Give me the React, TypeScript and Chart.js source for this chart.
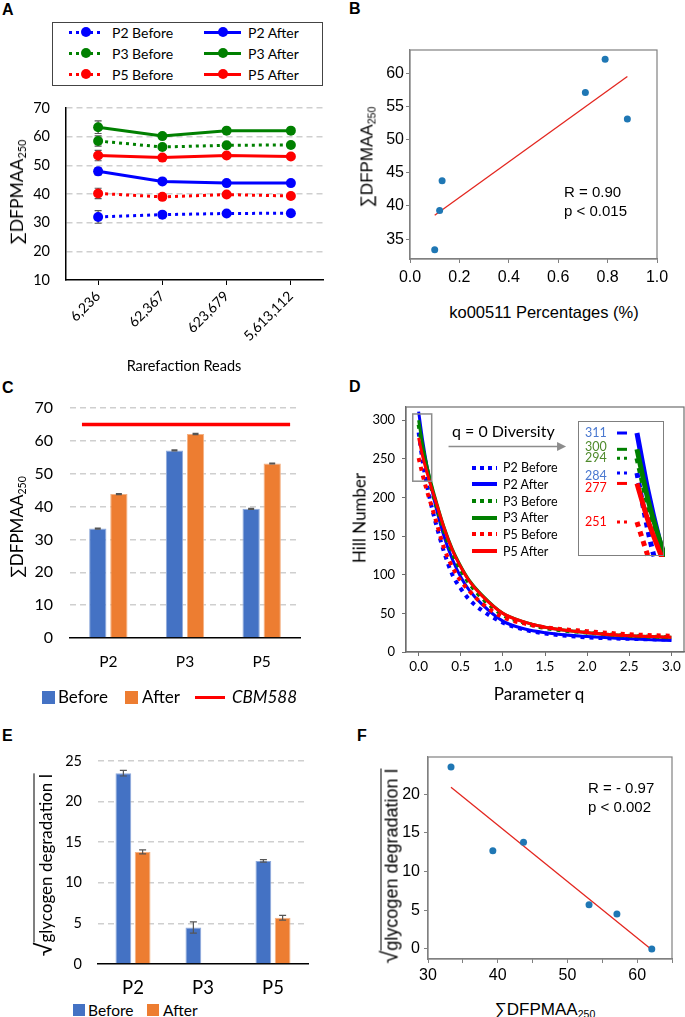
import React, { useEffect, useRef } from "react";
import { Chart, registerables } from "chart.js";
Chart.register(...registerables);

// ---------------- DATA ----------------
const rarefactionReads = ["6,236", "62,367", "623,679", "5,613,112"];
const aP2Before = [32.0, 32.8, 33.2, 33.3];
const aP2After = [47.9, 44.4, 43.8, 43.8];
const aP3Before = [58.5, 56.4, 57.0, 57.1];
const aP3After = [63.3, 60.2, 62.1, 62.1];
const aP5Before = [40.2, 39.0, 39.8, 39.3];
const aP5After = [53.4, 52.7, 53.4, 53.1];
const aP2BeforeErr = [2.2, 0.2, 0.2, 0.2];
const aP2AfterErr = [1.2, 0.2, 0.2, 0.2];
const aP3BeforeErr = [1.8, 0.2, 0.2, 0.2];
const aP3AfterErr = [2.2, 0.2, 0.2, 0.2];
const aP5BeforeErr = [1.8, 0.2, 0.2, 0.2];
const aP5AfterErr = [1.8, 0.2, 0.2, 0.2];

const koPercent = [0.1, 0.12, 0.13, 0.71, 0.79, 0.88];
const koDfpmaa = [33.4, 39.3, 43.8, 57.1, 62.1, 53.1];
const koFitX = [0.1, 0.88];
const koFitY = [38.6, 59.5];
const koStats = ["R = 0.90", "p < 0.015"];

const samples = ["P2", "P3", "P5"];
const cBefore = [33.3, 57.1, 39.3];
const cAfter = [43.8, 62.1, 53.1];
const cBeforeErr = [0.15, 0.15, 0.15];
const cAfterErr = [0.15, 0.2, 0.15];
const cbm588Level = [65, 65];
const cbm588Span = [0.052, 0.957];

const qValues = [0, 0.05, 0.1, 0.15, 0.2, 0.3, 0.4, 0.5, 0.6, 0.75, 1.0, 1.25, 1.5, 2.0, 2.5, 3.0];
const hP2Before = [284, 245, 215, 190, 168, 130, 100, 82, 68, 54, 38, 29, 24, 19, 17, 16];
const hP2After = [311, 272, 240, 214, 190, 150, 120, 97, 80, 62, 40, 30, 25, 20, 17, 15];
const hP3Before = [294, 262, 236, 213, 193, 157, 128, 106, 89, 70, 48, 38, 31, 25, 21, 19];
const hP3After = [300, 266, 240, 218, 198, 162, 133, 111, 93, 74, 50, 39, 32, 25, 21, 19];
const hP5Before = [251, 228, 208, 190, 172, 135, 110, 92, 79, 63, 45, 37, 32, 27, 23, 21];
const hP5After = [277, 252, 232, 213, 196, 161, 132, 110, 92, 73, 50, 39, 32, 25, 21, 19];
const zoomBoxQ = [-0.07, 0.155];
const zoomBoxHill = [221, 308];
const arrowQ = [0.355, 1.75];
const arrowHill = 266;

const eBefore = [23.5, 4.5, 12.7];
const eAfter = [13.8, 0, 5.7];
const eBeforeErr = [0.35, 0.7, 0.15];
const eAfterErr = [0.25, 0, 0.3];

const fDfpmaa = [33.3, 39.3, 43.7, 53.1, 57.1, 62.1];
const fGlycogen = [23.5, 12.7, 13.8, 5.7, 4.5, 0.0];
const fFitX = [33.3, 62.1];
const fFitY = [20.9, -0.1];
const fStats = ["R = - 0.97", "p < 0.002"];

// ---------------- STYLE ----------------
const LATO = "Lato, 'Open Sans', sans-serif";
const ARIAL = "'Liberation Sans', Arial, sans-serif";
const BLUE = "#0000ff";
const GREEN = "#008000";
const RED = "#ff0000";
const BAR_BLUE = "#4472c4";
const BAR_ORANGE = "#ed7d31";
const GRID = "#cfcfcf";
const TRANSPARENT = "rgba(0,0,0,0)";
const noLegend = { legend: { display: false }, tooltip: { enabled: false } };

const hillSeries = [
  { label: "P2 Before", data: hP2Before, color: BLUE, dotted: true, numColor: "#4a78d0", shift: 3 },
  { label: "P2 After", data: hP2After, color: BLUE, dotted: false, numColor: "#4a78d0", shift: 0 },
  { label: "P3 Before", data: hP3Before, color: GREEN, dotted: true, numColor: "#4f8a2b", shift: 0 },
  { label: "P3 After", data: hP3After, color: GREEN, dotted: false, numColor: "#4f8a2b", shift: -2 },
  { label: "P5 Before", data: hP5Before, color: RED, dotted: true, numColor: RED, shift: 0 },
  { label: "P5 After", data: hP5After, color: RED, dotted: false, numColor: RED, shift: 5 },
];

// fixed axis sizes, without label-overflow padding
const fixW = (w: number) => (s: any) => { s.width = w; s.paddingTop = 0; s.paddingBottom = 0; };
const fixH = (h: number) => (s: any) => { s.height = h; s.paddingLeft = 0; s.paddingRight = 0; };

// ---------------- PLUGINS ----------------
function drawErrors(chart: any, opts: any) {
  const { ctx } = chart;
  chart.data.datasets.forEach((ds: any, i: number) => {
    if (!ds.errors) return;
    const meta = chart.getDatasetMeta(i);
    const ys = chart.scales[meta.yAxisID];
    meta.data.forEach((el: any, j: number) => {
      const e = ds.errors[j];
      const v = ds.data[j];
      if (!e) return;
      const x = el.x;
      const y1 = ys.getPixelForValue(v + e);
      const y2 = ys.getPixelForValue(v - e);
      ctx.save();
      ctx.strokeStyle = opts.color || "#555";
      ctx.lineWidth = opts.width || 1;
      ctx.beginPath();
      ctx.moveTo(x, y1);
      ctx.lineTo(x, y2);
      ctx.moveTo(x - opts.cap, y1);
      ctx.lineTo(x + opts.cap, y1);
      ctx.moveTo(x - opts.cap, y2);
      ctx.lineTo(x + opts.cap, y2);
      ctx.stroke();
      ctx.restore();
    });
  });
}
const errorBarPlugin = {
  id: "errorBars",
  beforeDatasetsDraw(chart: any, _a: any, opts: any) {
    if (opts.before) drawErrors(chart, opts);
  },
  afterDatasetsDraw(chart: any, _a: any, opts: any) {
    if (!opts.before) drawErrors(chart, opts);
  },
};

const framePlugin = {
  id: "frame",
  afterDraw(chart: any, _a: any, opts: any) {
    const { ctx, chartArea } = chart;
    ctx.save();
    ctx.strokeStyle = opts.color || "#777";
    ctx.lineWidth = opts.width || 1;
    ctx.strokeRect(chartArea.left, chartArea.top, chartArea.right - chartArea.left, chartArea.bottom - chartArea.top);
    ctx.restore();
  },
};

const dAnnotPlugin = {
  id: "dAnnot",
  afterDatasetsDraw(chart: any) {
    const { ctx } = chart;
    const xs = chart.scales.x;
    const ys = chart.scales.y;
    const x0 = xs.getPixelForValue(zoomBoxQ[0]);
    const x1 = xs.getPixelForValue(zoomBoxQ[1]);
    const y0 = ys.getPixelForValue(zoomBoxHill[1]);
    const y1 = ys.getPixelForValue(zoomBoxHill[0]);
    ctx.save();
    ctx.strokeStyle = "#8c8c8c";
    ctx.lineWidth = 1.5;
    ctx.strokeRect(x0, y0, x1 - x0, y1 - y0);
    const ax0 = xs.getPixelForValue(arrowQ[0]);
    const ax1 = xs.getPixelForValue(arrowQ[1]);
    const ay = ys.getPixelForValue(arrowHill);
    ctx.beginPath();
    ctx.moveTo(ax0, ay);
    ctx.lineTo(ax1 - 4, ay);
    ctx.stroke();
    ctx.fillStyle = "#8c8c8c";
    ctx.beginPath();
    ctx.moveTo(ax1, ay);
    ctx.lineTo(ax1 - 9, ay - 4.5);
    ctx.lineTo(ax1 - 9, ay + 4.5);
    ctx.closePath();
    ctx.fill();
    ctx.restore();
  },
};

const insetLabelPlugin = {
  id: "insetLabels",
  afterDraw(chart: any) {
    const { ctx } = chart;
    const ys = chart.scales.y;
    ctx.save();
    ctx.font = `12.5px ${LATO}`;
    ctx.textBaseline = "middle";
    hillSeries.forEach((s) => {
      const v = s.data[0];
      const py = ys.getPixelForValue(v);
      ctx.fillStyle = s.numColor;
      ctx.fillText(String(v), 7, py + s.shift);
      ctx.strokeStyle = s.color;
      ctx.lineWidth = 3;
      ctx.setLineDash(s.dotted ? [3, 4] : []);
      ctx.beginPath();
      ctx.moveTo(39, py);
      ctx.lineTo(49, py);
      ctx.stroke();
    });
    ctx.restore();
  },
};

// ---------------- CONFIGS ----------------
function lineDs(label: string, data: number[], errors: number[], color: string, dotted: boolean, order: number) {
  return {
    label,
    data,
    errors,
    order,
    borderColor: color,
    backgroundColor: color,
    borderWidth: 3,
    borderDash: dotted ? [3, 4] : [],
    pointRadius: 5,
    pointHoverRadius: 5,
    pointBackgroundColor: color,
    pointBorderWidth: 0,
    tension: 0,
  };
}

const configA = () => ({
  type: "line",
  data: {
    labels: rarefactionReads,
    datasets: [
      lineDs("P2 Before", aP2Before, aP2BeforeErr, BLUE, true, 5),
      lineDs("P2 After", aP2After, aP2AfterErr, BLUE, false, 4),
      lineDs("P3 Before", aP3Before, aP3BeforeErr, GREEN, true, 3),
      lineDs("P3 After", aP3After, aP3AfterErr, GREEN, false, 2),
      lineDs("P5 Before", aP5Before, aP5BeforeErr, RED, true, 1),
      lineDs("P5 After", aP5After, aP5AfterErr, RED, false, 0),
    ],
  },
  options: {
    responsive: false,
    animation: false,
    layout: { padding: { top: 13, right: 19, left: 0, bottom: 0 } },
    plugins: { ...noLegend, errorBars: { color: "#555", width: 1.2, cap: 3.5, before: true } },
    scales: {
      x: {
        offset: true,
        grid: { drawOnChartArea: false, tickLength: 5, color: "#000", lineWidth: 1 },
        border: { color: "#000", width: 1.5 },
        ticks: { minRotation: 45, maxRotation: 45, padding: 3, color: "#000", font: { family: LATO, size: 14 } },
        afterFit: fixH(85),
      },
      y: {
        min: 10,
        max: 70,
        grid: { drawTicks: false, color: (c: any) => (c.tick && c.tick.value === 10 ? TRANSPARENT : GRID), lineWidth: 1.5 },
        border: { color: "#000", width: 1.5, dash: [6, 4] },
        ticks: { stepSize: 10, padding: 16, color: "#000", font: { family: LATO, size: 14.5 } },
        afterFit: fixW(66),
      },
    },
  },
  plugins: [errorBarPlugin],
});

function scatterConfig(opts: any) {
  return {
    type: "scatter",
    data: {
      datasets: [
        { data: opts.xs.map((x: number, i: number) => ({ x, y: opts.ys[i] })), backgroundColor: "#1f77b4", pointRadius: 3.5, pointHoverRadius: 3.5, pointBorderWidth: 0, order: 0 },
        { type: "line", data: opts.fx.map((x: number, i: number) => ({ x, y: opts.fy[i] })), borderColor: "#e3261f", borderWidth: 1.3, pointRadius: 0, order: 1 },
      ],
    },
    options: {
      responsive: false,
      animation: false,
      layout: { padding: opts.padding },
      plugins: { ...noLegend, frame: { color: "#808080", width: 1.2 } },
      scales: {
        x: {
          type: "linear",
          min: opts.xMin,
          max: opts.xMax,
          grid: { drawOnChartArea: false, tickLength: 4, color: "#808080" },
          border: { color: "#808080", width: 1.2 },
          ticks: { stepSize: opts.xStep, includeBounds: false, padding: opts.xPad, color: "#000", font: { family: ARIAL, size: 16 }, callback: opts.xCb },
          afterFit: fixH(opts.xH),
        },
        y: {
          min: opts.yMin,
          max: opts.yMax,
          grid: { drawOnChartArea: false, tickLength: 4, color: "#808080" },
          border: { color: "#808080", width: 1.2 },
          ticks: { stepSize: 5, includeBounds: false, padding: opts.yPad, color: "#000", font: { family: ARIAL, size: 16 } },
          afterFit: fixW(opts.yW),
        },
      },
    },
    plugins: [framePlugin],
  };
}

const configB = () =>
  scatterConfig({
    xs: koPercent, ys: koDfpmaa, fx: koFitX, fy: koFitY,
    padding: { top: 20, right: 28, left: 0, bottom: 0 },
    xMin: 0, xMax: 1, xStep: 0.2, xPad: 5, xH: 31, xCb: (v: any) => Number(v).toFixed(1),
    yMin: 32, yMax: 63.5, yPad: 2, yW: 68,
  });

const configF = () =>
  scatterConfig({
    xs: fDfpmaa, ys: fGlycogen, fx: fFitX, fy: fFitY,
    padding: { top: 17, right: 13, left: 0, bottom: 0 },
    xMin: 30, xMax: 65, xStep: 5, xPad: 3, xH: 31, xCb: (v: any) => (Number(v) % 10 === 0 ? String(v) : ""),
    yMin: -1.3, yMax: 24.8, yPad: 4, yW: 86,
  });

function barDs(label: string, data: number[], errors: number[], color: string, edge: string) {
  return {
    label, data, errors,
    backgroundColor: color, borderColor: edge, borderWidth: 1,
    categoryPercentage: 0.55, barPercentage: 0.82,
  };
}

function barScales(o: any) {
  return {
    x: {
      grid: { display: false, drawTicks: false },
      border: { color: "#000", width: 1.5 },
      ticks: { padding: o.xPad, color: "#000", font: { family: LATO, size: o.xSize } },
      afterFit: fixH(o.xH),
    },
    y: {
      min: 0,
      max: o.yMax,
      grid: { drawTicks: false, color: (c: any) => (c.tick && c.tick.value === 0 ? TRANSPARENT : GRID), lineWidth: 1.5 },
      border: { display: false, dash: [6, 4] },
      ticks: { stepSize: o.yStep, padding: o.yPad, color: "#000", font: { family: LATO, size: o.ySize } },
      afterFit: fixW(o.yW),
    },
  };
}

const configC = () => ({
  type: "bar",
  data: {
    labels: samples,
    datasets: [
      barDs("Before", cBefore, cBeforeErr, BAR_BLUE, "#8faadc"),
      barDs("After", cAfter, cAfterErr, BAR_ORANGE, "#f4b183"),
    ],
  },
  options: {
    responsive: false,
    animation: false,
    layout: { padding: { top: 13, right: 42, left: 0, bottom: 0 } },
    plugins: { ...noLegend, errorBars: { color: "#555", width: 1.2, cap: 3 } },
    scales: barScales({ xPad: 15, xSize: 15.5, xH: 37, yMax: 70, yStep: 10, yPad: 17, ySize: 16, yW: 70 }),
  },
  plugins: [errorBarPlugin],
});

// transparent overlay with the same plot area as C, carrying the CBM588 reference line
const configCLine = () => ({
  type: "line",
  data: {
    datasets: [
      { label: "CBM588", data: cbm588Span.map((x, i) => ({ x, y: cbm588Level[i] })), borderColor: RED, borderWidth: 3.5, pointRadius: 0 },
    ],
  },
  options: {
    responsive: false,
    animation: false,
    layout: { padding: { top: 13, right: 42, left: 70, bottom: 37 } },
    plugins: { ...noLegend },
    scales: {
      x: { type: "linear", min: 0, max: 1, display: false },
      y: { min: 0, max: 70, display: false },
    },
  },
});

const configE = () => ({
  type: "bar",
  data: {
    labels: samples,
    datasets: [
      barDs("Before", eBefore, eBeforeErr, BAR_BLUE, "#8faadc"),
      barDs("After", eAfter, eAfterErr, BAR_ORANGE, "#f4b183"),
    ],
  },
  options: {
    responsive: false,
    animation: false,
    layout: { padding: { top: 11, right: 34, left: 0, bottom: 0 } },
    plugins: { ...noLegend, errorBars: { color: "#555", width: 1.2, cap: 3.5 } },
    scales: barScales({ xPad: 13, xSize: 18.5, xH: 36, yMax: 25, yStep: 5, yPad: 16, ySize: 14.5, yW: 98 }),
  },
  plugins: [errorBarPlugin],
});

function hillDatasets(widthSolid: number, widthDot: number, dash: number[]) {
  return hillSeries.map((s, i) => ({
    label: s.label,
    data: qValues.map((q, j) => ({ x: q, y: s.data[j] })),
    borderColor: s.color,
    borderWidth: s.dotted ? widthDot : widthSolid,
    borderDash: s.dotted ? dash : [],
    pointRadius: 0,
    cubicInterpolationMode: "monotone",
    order: 5 - i,
  }));
}

const configD = () => ({
  type: "line",
  data: { datasets: hillDatasets(3, 4, [4, 5]) },
  options: {
    responsive: false,
    animation: false,
    layout: { padding: { top: 12, right: 1, left: 0, bottom: 0 } },
    plugins: { ...noLegend, frame: { color: "#6e6e6e", width: 1.2 } },
    scales: {
      x: {
        type: "linear", min: -0.15, max: 3.15,
        grid: { drawOnChartArea: false, tickLength: 4, color: "#6e6e6e" },
        border: { color: "#6e6e6e", width: 1.2 },
        ticks: { stepSize: 0.5, includeBounds: false, padding: 3, color: "#000", font: { family: LATO, size: 13.5 }, callback: (v: any) => Number(v).toFixed(1) },
        afterFit: fixH(28),
      },
      y: {
        min: 0, max: 317,
        grid: { drawOnChartArea: false, tickLength: 4, color: "#6e6e6e" },
        border: { color: "#6e6e6e", width: 1.2 },
        ticks: { stepSize: 50, includeBounds: false, padding: 7, color: "#000", font: { family: LATO, size: 13 } },
        afterFit: fixW(64),
      },
    },
  },
  plugins: [framePlugin, dAnnotPlugin],
});

const configInset = () => ({
  type: "line",
  data: { datasets: hillDatasets(5, 5, [5, 5]) },
  options: {
    responsive: false,
    animation: false,
    layout: { padding: 0 },
    plugins: { ...noLegend },
    scales: {
      x: { type: "linear", min: -0.267, max: 0.127, display: false },
      y: { min: 227.4, max: 319.1, display: false },
    },
  },
  plugins: [insetLabelPlugin],
});

// ---------------- COMPONENTS ----------------
function ChartCanvas({ x, y, w, h, config }: { x: number; y: number; w: number; h: number; config: () => any }) {
  const ref = useRef<HTMLCanvasElement | null>(null);
  useEffect(() => {
    if (!ref.current) return;
    const chart = new Chart(ref.current, config());
    return () => chart.destroy();
  }, []);
  return (
    <div style={{ position: "absolute", left: x, top: y, width: w, height: h }}>
      <canvas ref={ref} width={w} height={h} style={{ display: "block", width: w, height: h }} />
    </div>
  );
}

function Txt({ left, cx, cy, size, family, bold, italic, color, children }: any) {
  const lh = Math.round(size * 1.2);
  const style: any = {
    position: "absolute",
    top: cy - lh / 2,
    lineHeight: `${lh}px`,
    fontSize: size,
    fontFamily: family,
    fontWeight: bold ? 700 : 400,
    fontStyle: italic ? "italic" : "normal",
    color: color || "#000",
    whiteSpace: "nowrap",
  };
  if (cx !== undefined) {
    style.left = cx;
    style.transform = "translateX(-50%)";
  } else style.left = left;
  return <div style={style}>{children}</div>;
}

function VText({ cx, cy, size, family, children }: any) {
  return (
    <div
      style={{
        position: "absolute", left: cx, top: cy,
        transform: "translate(-50%, -50%) rotate(-90deg)",
        whiteSpace: "nowrap", fontSize: size, fontFamily: family,
        lineHeight: `${Math.round(size * 1.25)}px`, color: "#000",
      }}
    >
      {children}
    </div>
  );
}

const SumTitle = () => (
  <>
    ∑DFPMAA<sub style={{ fontSize: "0.62em", verticalAlign: "-0.3em", lineHeight: 0 }}>250</sub>
  </>
);
const RootTitle = () => (
  <>
    <span style={{ fontSize: "1.3em", lineHeight: 0 }}>√</span>
    <span style={{ borderTop: "1.5px solid #000" }}>glycogen degradation I</span>
  </>
);

function Sample({ x, y, w, color, dotted, thick, marker, dot }: any) {
  const bg = dotted
    ? `repeating-linear-gradient(to right, ${color} 0px, ${color} ${dot[0]}px, transparent ${dot[0]}px, transparent ${dot[0] + dot[1]}px)`
    : color;
  return (
    <>
      <div style={{ position: "absolute", left: x, top: y - thick / 2, width: w, height: thick, background: bg }} />
      {marker ? (
        <div style={{ position: "absolute", left: x + w / 2 - 5, top: y - 5, width: 10, height: 10, borderRadius: "50%", background: color }} />
      ) : null}
    </>
  );
}

function Swatch({ x, cy, size, color }: any) {
  return <div style={{ position: "absolute", left: x, top: cy - size / 2, width: size, height: size, background: color }} />;
}

export default function App() {
  const legendARows = [
    { y: 32, l: hillSeries[0], r: hillSeries[1] },
    { y: 53, l: hillSeries[2], r: hillSeries[3] },
    { y: 74, l: hillSeries[4], r: hillSeries[5] },
  ];
  const legendDRowsY = [467.7, 484.3, 501, 517.7, 534.3, 551];
  return (
    <div style={{ position: "absolute", left: 0, top: 0, width: 685, height: 1017, background: "#fff", overflow: "hidden" }}>
      {/* Panel labels */}
      <Txt left={2} cy={9} size={16} family={ARIAL} bold>A</Txt>
      <Txt left={349} cy={8} size={16} family={ARIAL} bold>B</Txt>
      <Txt left={2} cy={387} size={16} family={ARIAL} bold>C</Txt>
      <Txt left={349} cy={386} size={16} family={ARIAL} bold>D</Txt>
      <Txt left={2} cy={735} size={16} family={ARIAL} bold>E</Txt>
      <Txt left={357} cy={735} size={16} family={ARIAL} bold>F</Txt>

      {/* Panel A */}
      <ChartCanvas x={0} y={95} w={342} h={270} config={configA} />
      <div style={{ position: "absolute", left: 52, top: 22, width: 269, height: 62, border: "1px solid #444" }} />
      {legendARows.map((r) => (
        <React.Fragment key={r.y}>
          <Sample x={69} y={r.y} w={34} color={r.l.color} dotted={r.l.dotted} thick={3} marker dot={[3, 4]} />
          <Txt left={112} cy={r.y} size={14} family={LATO}>{r.l.label}</Txt>
          <Sample x={204} y={r.y} w={37} color={r.r.color} dotted={r.r.dotted} thick={3} marker dot={[3, 4]} />
          <Txt left={248} cy={r.y} size={14} family={LATO}>{r.r.label}</Txt>
        </React.Fragment>
      ))}
      <VText cx={17} cy={192} size={17.5} family={LATO}><SumTitle /></VText>
      <Txt cx={184} cy={365} size={14.5} family={LATO}>Rarefaction Reads</Txt>

      {/* Panel B */}
      <ChartCanvas x={342} y={30} w={343} h={260} config={configB} />
      <VText cx={367} cy={157} size={17} family={ARIAL}><SumTitle /></VText>
      <Txt cx={544} cy={312} size={16.5} family={ARIAL}>ko00511 Percentages (%)</Txt>
      <Txt left={564} cy={192} size={15} family={ARIAL}>{koStats[0]}</Txt>
      <Txt left={564} cy={211} size={15} family={ARIAL}>{koStats[1]}</Txt>

      {/* Panel C */}
      <ChartCanvas x={0} y={395} w={342} h={280} config={configC} />
      <ChartCanvas x={0} y={395} w={342} h={280} config={configCLine} />
      <VText cx={16} cy={527} size={17} family={LATO}><SumTitle /></VText>
      <Swatch x={42} cy={697} size={13} color={BAR_BLUE} />
      <Txt left={58} cy={697} size={17} family={LATO}>Before</Txt>
      <Swatch x={125} cy={697} size={13} color={BAR_ORANGE} />
      <Txt left={142} cy={697} size={17} family={LATO}>After</Txt>
      <div style={{ position: "absolute", left: 195, top: 696, width: 30, height: 2.5, background: RED }} />
      <Txt left={232} cy={697} size={17} family={LATO} italic>CBM588</Txt>

      {/* Panel D */}
      <ChartCanvas x={342} y={395} w={343} h={285} config={configD} />
      <VText cx={359} cy={518} size={17} family={LATO}>Hill Number</VText>
      <Txt cx={539} cy={694} size={17} family={LATO}>Parameter q</Txt>
      <Txt left={452} cy={430} size={16} family={LATO}>q = 0 Diversity</Txt>
      {hillSeries.map((s, i) => (
        <React.Fragment key={s.label}>
          <Sample x={472} y={legendDRowsY[i]} w={25} color={s.color} dotted={s.dotted} thick={4} dot={[4, 4]} />
          <Txt left={503} cy={legendDRowsY[i]} size={12.5} family={LATO}>{s.label}</Txt>
        </React.Fragment>
      ))}
      <div style={{ position: "absolute", left: 578, top: 421, width: 87, height: 136, background: "#fff" }}>
        <ChartCanvas x={0} y={0} w={87} h={136} config={configInset} />
        <div style={{ position: "absolute", left: 0, top: 0, width: 84, height: 133, border: "1.5px solid #7f7f7f" }} />
      </div>

      {/* Panel E */}
      <ChartCanvas x={0} y={750} w={342} h={250} config={configE} />
      <VText cx={45} cy={865} size={17} family={LATO}><RootTitle /></VText>
      <Swatch x={73} cy={1010} size={12} color={BAR_BLUE} />
      <Txt left={88} cy={1010} size={15.5} family={LATO}>Before</Txt>
      <Swatch x={147} cy={1010} size={12} color={BAR_ORANGE} />
      <Txt left={163} cy={1010} size={15.5} family={LATO}>After</Txt>

      {/* Panel F */}
      <ChartCanvas x={342} y={740} w={343} h={250} config={configF} />
      <VText cx={392} cy={866} size={18} family={ARIAL}><RootTitle /></VText>
      <Txt cx={545} cy={1010} size={17} family={ARIAL}><SumTitle /></Txt>
      <Txt left={588} cy={788} size={15} family={ARIAL}>{fStats[0]}</Txt>
      <Txt left={588} cy={807} size={15} family={ARIAL}>{fStats[1]}</Txt>
    </div>
  );
}
